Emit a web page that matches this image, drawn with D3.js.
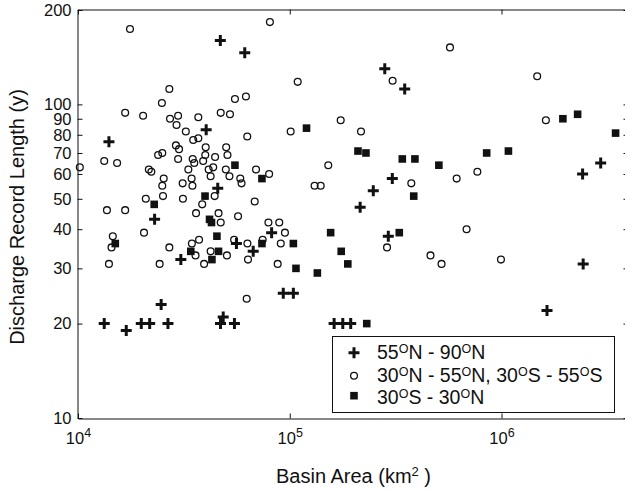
<!DOCTYPE html>
<meta charset="utf-8">
<script src="https://cdn.jsdelivr.net/npm/d3@7"></script>
<style>
    body { margin: 0; background: #fff; }
    text { font-family: "Liberation Sans", Arial, sans-serif; fill: #111; }
</style>
<div id="chart"></div>
<script>

// 55N - 90N (crosses): basin area (km2), record length (y)
const northArea = [47000, 61300, 281000, 349000, 14000, 40300, 45700, 23000, 30600, 56000,
    67200, 82100, 215000, 248000, 305000, 292000, 2415000, 2940000, 2430000, 1640000,
    13300, 16900, 19900, 21800, 26600, 24700, 47100, 48500, 54800, 93200,
    104000, 162000, 178000, 194000];
const northYears = [160, 146, 130, 112, 76, 83, 54, 43, 32, 36,
    34, 39, 47, 53, 58, 38, 60, 65, 31, 22,
    20, 19, 20, 20, 20, 23, 20, 21, 20, 25,
    25, 20, 20, 20];

// 30N - 55N, 30S - 55S (open circles)
const midArea = [17600, 80600, 571000, 1474000, 109000, 306000, 27000, 24900, 55100, 62100,
    16700, 20300, 27200, 29700, 29200, 37000, 47200, 52200, 174000, 1620000,
    32300, 101000, 217000, 63000, 35000, 37000, 29000, 30000, 40100, 50100,
    50800, 23900, 25000, 29700, 34800, 35400, 39000, 39900, 44400, 13300,
    15300, 10200, 21600, 22200, 33200, 41400, 43500, 42300, 49900, 51900,
    58400, 59200, 69300, 79900, 25400, 25000, 31200, 34400, 34700, 152000,
    131000, 140000, 375000, 614000, 769000, 20900, 25200, 31300, 38600, 44200,
    68300, 13700, 16700, 36100, 46100, 47200, 57000, 79300, 89200, 94900,
    20500, 14600, 14400, 37300, 34500, 27000, 42300, 35900, 50500, 54600,
    63100, 63500, 74500, 90700, 87700, 14000, 24300, 39400, 684000, 288000,
    462000, 521000, 994000, 62600];
const midYears = [174, 183, 152, 123, 118, 119, 112, 101, 104, 106,
    94, 92, 90, 92, 86, 91, 94, 93, 89, 89,
    82, 82, 82, 79, 77, 78, 74, 72, 73, 73,
    69, 69, 70, 67, 67, 65, 66, 69, 68, 66,
    65, 63, 62, 61, 62, 62, 63, 59, 62, 59,
    58, 56, 62, 60, 58, 55, 56, 58, 55, 64,
    55, 55, 56, 58, 61, 50, 51, 50, 48, 51,
    49, 46, 46, 45, 45, 42, 44, 42, 42, 39,
    39, 38, 35, 37, 36, 35, 34, 33, 33, 37,
    36, 32, 37, 36, 31, 31, 31, 31, 40, 35,
    33, 31, 32, 24];

// 30S - 30N (filled squares)
const tropArea = [22900, 39800, 55100, 41800, 42700, 45300, 15000, 34100, 46100, 42900,
    73900, 73900, 104000, 107000, 135000, 120000, 210000, 229000, 340000, 390000,
    506000, 385000, 156000, 329000, 175000, 188000, 231000, 851000, 1078000, 1949000,
    2288000, 3457000];
const tropYears = [48, 51, 64, 43, 42, 38, 36, 34, 34, 32,
    58, 36, 36, 30, 29, 84, 71, 70, 67, 67,
    64, 51, 39, 39, 34, 31, 20, 70, 71, 90,
    93, 81];

const yTicks = [10, 20, 30, 40, 50, 60, 70, 80, 90, 100, 200];
const xTicks = [1e4, 1e5, 1e6];

// legend text, [text, superscript?]
const legendLabels = [
    [["55", 0], ["O", 1], ["N - 90", 0], ["O", 1], ["N", 0]],
    [["30", 0], ["O", 1], ["N - 55", 0], ["O", 1], ["N, 30", 0], ["O", 1], ["S - 55", 0], ["O", 1], ["S", 0]],
    [["30", 0], ["O", 1], ["S - 30", 0], ["O", 1], ["N", 0]]
];

const width = 625, height = 493;
const ink = "#111";

const svg = d3.select("#chart")
    .append("svg")
    .attr("width", width)
    .attr("height", height);

const x = d3.scaleLog().domain([1e4, 4e6]).range([78, 629]);
const y = d3.scaleLog().domain([10, 200]).range([418, 10]);

// writes text parts into a text element, raising the superscript ones
function richText(sel, parts, supSize, shift) {
    let up = false;
    parts.forEach(function(p) {
        const ts = sel.append("tspan").text(p[0]);
        if (p[1] && !up) { ts.attr("dy", -shift).attr("font-size", supSize); up = true; }
        else if (p[1]) { ts.attr("font-size", supSize); }
        else if (up) { ts.attr("dy", shift); up = false; }
    });
}

function styleAxis(g) {
    g.attr("font-size", null).attr("font-family", null);
    g.select(".domain").attr("stroke", ink);
    g.selectAll(".tick line").attr("stroke", ink);
}

// left axis with labels
svg.append("g")
    .attr("transform", "translate(77.5,0)")
    .call(d3.axisLeft(y).tickValues(yTicks).tickFormat(d3.format("d"))
        .tickSizeInner(-5).tickSizeOuter(0).tickPadding(6))
    .call(styleAxis)
    .selectAll("text").attr("font-size", 16.5).style("fill", ink);

// right axis, ticks only
svg.append("g")
    .attr("transform", "translate(628.5,0)")
    .call(d3.axisRight(y).tickValues(yTicks).tickFormat("")
        .tickSizeInner(-5).tickSizeOuter(0))
    .call(styleAxis);

// top axis, ticks only
svg.append("g")
    .attr("transform", "translate(0,9.5)")
    .call(d3.axisTop(x).tickValues(xTicks).tickFormat("")
        .tickSizeInner(-5).tickSizeOuter(0))
    .call(styleAxis);

// bottom axis
const xAxisG = svg.append("g")
    .attr("transform", "translate(0,418.5)")
    .call(d3.axisBottom(x).tickValues(xTicks).tickFormat("")
        .tickSizeInner(-5).tickSizeOuter(0))
    .call(styleAxis);

xAxisG.selectAll(".tick").each(function(d) {
    const t = d3.select(this).append("text")
        .attr("y", 25)
        .attr("text-anchor", "middle")
        .attr("font-size", 16.5)
        .style("fill", ink);
    richText(t, [["10", 0], [String(Math.round(Math.log10(d))), 1]], 12.5, 6.5);
});

// axis titles
const xTitle = svg.append("text")
    .attr("x", 353.5)
    .attr("y", 482.5)
    .attr("text-anchor", "middle")
    .attr("font-size", 20);
richText(xTitle, [["Basin Area (km", 0], ["2", 1], [" )", 0]], 13, 7);

svg.append("text")
    .attr("transform", "translate(23.5,217) rotate(-90)")
    .attr("text-anchor", "middle")
    .attr("font-size", 20)
    .text("Discharge Record Length (y)");

// markers
const crossPath = "M-5.5,0H5.5M0,-5.5V5.5";

svg.append("g")
    .selectAll("path")
    .data(d3.zip(northArea, northYears))
    .join("path")
    .attr("d", crossPath)
    .attr("transform", d => `translate(${x(d[0])},${y(d[1])})`)
    .attr("stroke", ink)
    .attr("stroke-width", 3)
    .attr("fill", "none");

svg.append("g")
    .selectAll("circle")
    .data(d3.zip(midArea, midYears))
    .join("circle")
    .attr("cx", d => x(d[0]))
    .attr("cy", d => y(d[1]))
    .attr("r", 3.4)
    .attr("fill", "none")
    .attr("stroke", ink)
    .attr("stroke-width", 1.3);

svg.append("g")
    .selectAll("rect")
    .data(d3.zip(tropArea, tropYears))
    .join("rect")
    .attr("x", d => x(d[0]) - 3.8)
    .attr("y", d => y(d[1]) - 3.8)
    .attr("width", 7.6)
    .attr("height", 7.6)
    .attr("fill", ink);

// legend
const legend = svg.append("g");
legend.append("rect")
    .attr("x", 332.5).attr("y", 336.5)
    .attr("width", 282).attr("height", 76)
    .attr("fill", "#fff")
    .attr("stroke", ink);

const markY = [352.7, 375.7, 395.7];
const textY = [359.3, 381.7, 404];

legend.append("path")
    .attr("d", crossPath)
    .attr("transform", `translate(354,${markY[0]})`)
    .attr("stroke", ink).attr("stroke-width", 3);
legend.append("circle")
    .attr("cx", 354).attr("cy", markY[1]).attr("r", 3.4)
    .attr("fill", "none").attr("stroke", ink).attr("stroke-width", 1.3);
legend.append("rect")
    .attr("x", 354 - 3.8).attr("y", markY[2] - 3.8)
    .attr("width", 7.6).attr("height", 7.6)
    .attr("fill", ink);

legendLabels.forEach(function(parts, i) {
    const t = legend.append("text")
        .attr("x", 377)
        .attr("y", textY[i])
        .attr("font-size", 19.5);
    richText(t, parts, 12.5, 6);
});

</script>
